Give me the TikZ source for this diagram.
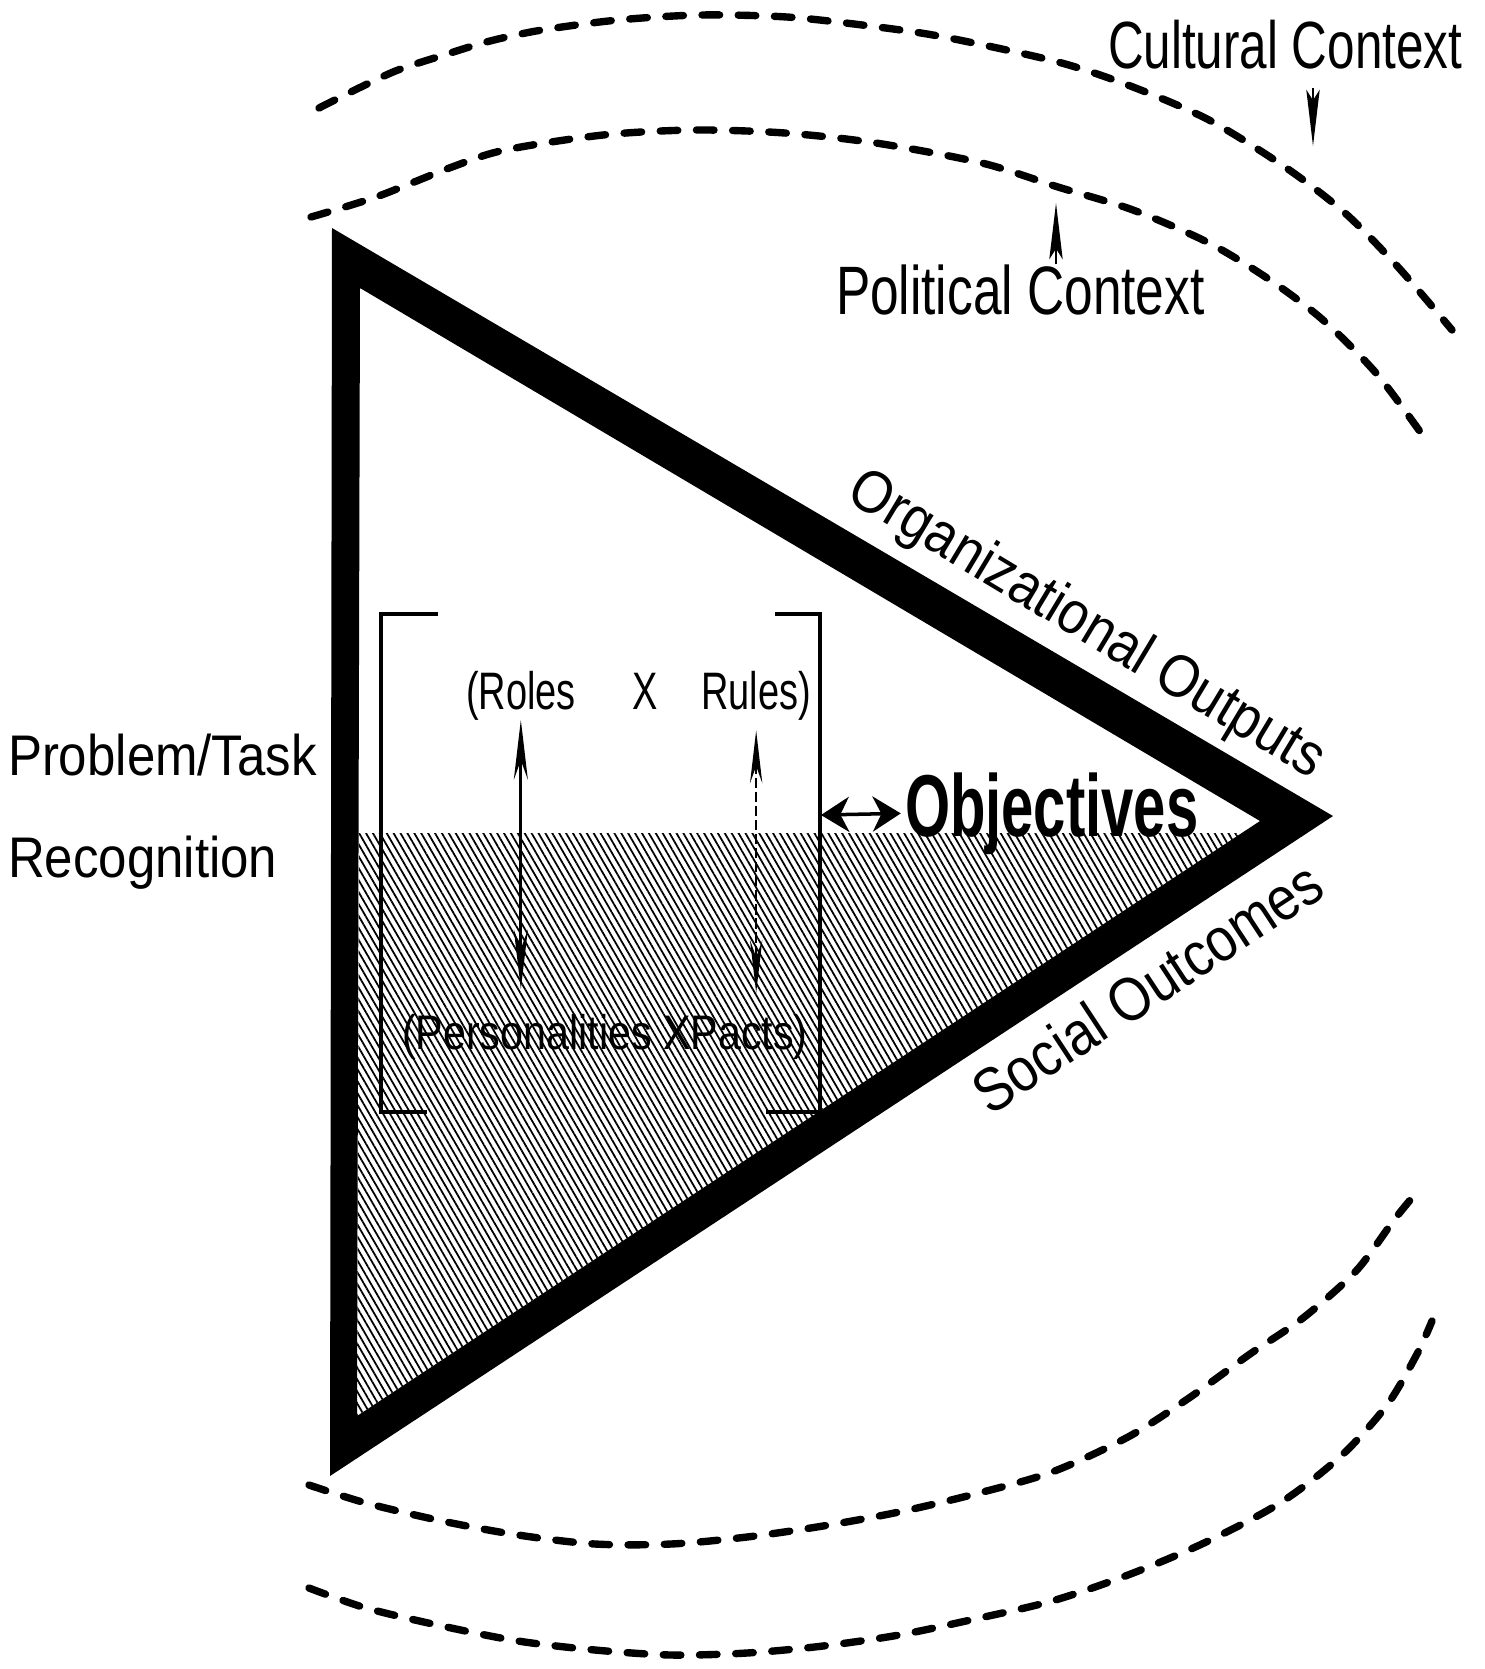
\documentclass[tikz,border=0pt]{standalone}
\usepackage{fontspec}
\setmainfont{Liberation Sans}
\usetikzlibrary{arrows.meta,patterns.meta}
\newcommand{\mylbl}[3]{\scalebox{#1}[1]{\fontsize{#2}{#2}\selectfont #3}}
\begin{document}
\begin{tikzpicture}[x=0.1mm,y=-0.1mm,
  ctx/.style={line width=2.1pt, dash pattern=on 5pt off 5.3pt, line cap=round},
  band/.style={fill=black, even odd rule},
  hatch/.style={pattern={Lines[angle=-60,distance=1.7pt,line width=0.5pt]}},
  txt/.style={inner sep=0pt, outer sep=0pt},
  brk/.style={line width=1pt},
  vlink/.style={line width=0.85pt, {Stealth[length=17pt,width=4pt]}-{Stealth[length=17pt,width=4pt]}},
  vlinkb/.style={line width=0.6pt, dash pattern=on 3pt off 1pt, {Stealth[length=15pt,width=3.5pt]}-{Stealth[length=15pt,width=3.5pt]}},
  objlink/.style={line width=1pt, {Stealth[length=8pt,width=10pt,inset=2.5pt]}-{Stealth[length=8pt,width=10pt,inset=2.5pt]}},
  ptr/.style={line width=0.8pt, -{Stealth[length=16pt,width=3.8pt,inset=3pt]}},
]
\useasboundingbox (0,0) rectangle (1484,1669);

% context arcs
\draw[ctx] plot[smooth] coordinates {(319,108) (361,87) (398,70) (444,55) (490,41) (542,30) (618,20) (700,15) (787,17) (870,26) (944,37) (1058,62) (1133,87) (1209,120) (1285,167) (1345,213) (1398,267) (1452,330)};
\draw[ctx] plot[smooth] coordinates {(311,217) (376,197) (452,167) (505,150) (603,135) (694,130) (785,133) (876,143) (982,163) (1058,187) (1133,210) (1209,243) (1270,280) (1323,320) (1376,373) (1421,433)};
\draw[ctx] plot[smooth] coordinates {(309,1485) (366,1503) (442,1521) (518,1535) (595,1544) (671,1544) (747,1537) (823,1526) (899,1512) (975,1494) (1052,1472) (1128,1437) (1189,1398) (1250,1354) (1303,1318) (1356,1271) (1394,1220) (1416,1193)};
\draw[ctx] plot[smooth] coordinates {(309,1588) (366,1608) (442,1626) (518,1641) (595,1650) (671,1655) (747,1653) (823,1646) (899,1635) (975,1619) (1052,1601) (1128,1575) (1204,1543) (1280,1503) (1341,1456) (1387,1405) (1417,1354) (1432,1321)};

% hatched lower half of the triangle
\fill[hatch] (359,833) -- (1242,833) -- (357,1416) -- cycle;

% triangle band
\fill[band] (332,228) -- (1333,816) -- (330,1476) -- cycle
            (360,288) -- (1260,821) -- (357,1416) -- cycle;

% brackets
\draw[brk] (438,614) -- (381,614) -- (381,1112) -- (427,1112);
\draw[brk] (775,614) -- (820,614) -- (820,1112) -- (766,1112);
\coordinate (brkR) at (821,815);

% inner texts
\node[txt, anchor=base west] (roles) at (466,709) {\mylbl{0.72}{15pt}{(Roles}};
\node[txt, anchor=base] (times1) at (645,709) {\mylbl{0.72}{15pt}{X}};
\node[txt, anchor=base east] (rules) at (811,709) {\mylbl{0.72}{15pt}{Rules)}};
\node[txt, anchor=base west] (pers) at (402,1049) {\mylbl{0.85}{13.8pt}{(Personalities XPacts)}};

\draw[vlink, shorten >=7pt] (roles.south) -- (roles.south |- pers.north);
\draw[vlinkb, shorten <=3pt, shorten >=6pt] (rules.south) -- (rules.south |- pers.north);

% objectives
\node[txt, anchor=base west] (obj) at (905,836) {\mylbl{0.66}{25pt}{\bfseries Objectives}};
\draw[objlink, shorten >=1.2pt] (brkR) -- (obj.west);

% outer labels
\node[txt, anchor=base west] (prob) at (8,775) {\mylbl{0.89}{16.3pt}{Problem/Task}};
\node[txt, anchor=base west] (recog) at (8,877) {\mylbl{0.89}{16.3pt}{Recognition}};
\node[txt, anchor=base west] (cult) at (1108,68) {\mylbl{0.74}{19pt}{Cultural Context}};
\node[txt, anchor=base west] (pol) at (836,314) {\mylbl{0.75}{19.5pt}{Political Context}};
\node[txt, rotate=-31] (org) at (1086,626) {\mylbl{0.89}{17pt}{Organizational Outputs}};
\node[txt, rotate=33.3] (soc) at (1147,987) {\mylbl{0.87}{17.5pt}{Social Outcomes}};

% pointers to the arcs
\coordinate (polarc) at (1056,203);
\coordinate (cultend) at (1313,146);
\draw[ptr] (pol.north -| polarc) -- (polarc);
\draw[ptr, shorten <=5.5pt] (cult.south -| cultend) -- (cultend);
\end{tikzpicture}
\end{document}
